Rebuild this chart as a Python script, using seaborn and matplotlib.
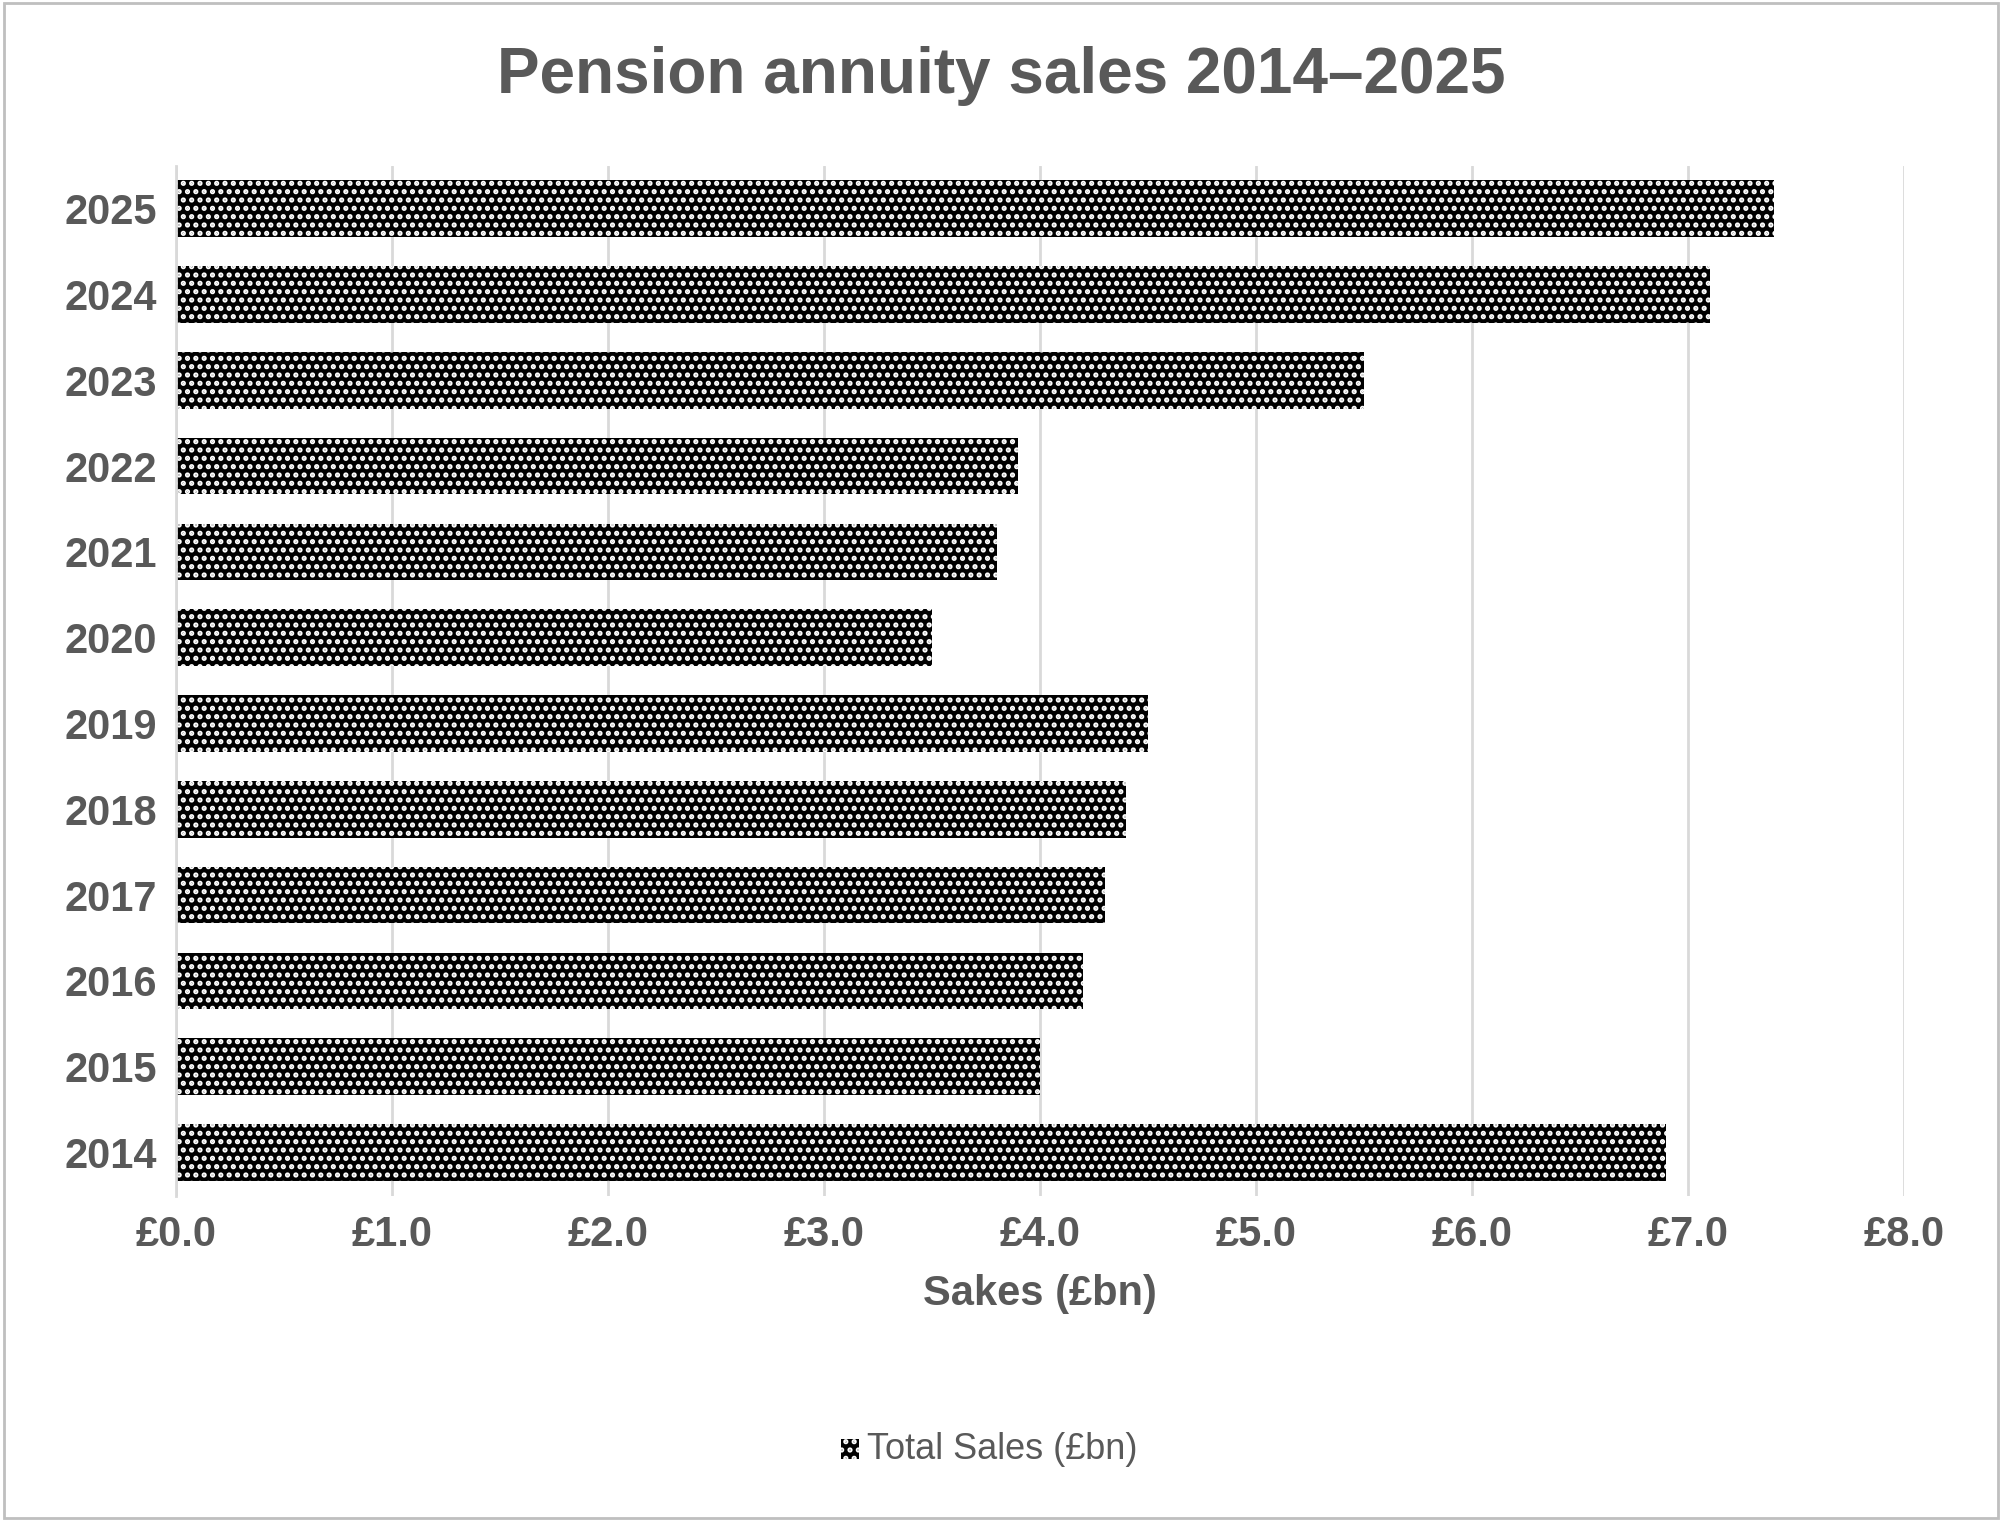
import matplotlib
matplotlib.use("Agg")
import matplotlib.pyplot as plt
import seaborn as sns
import pandas as pd
from matplotlib.patches import Rectangle

years = ["2025", "2024", "2023", "2022", "2021", "2020", "2019", "2018", "2017", "2016", "2015", "2014"]
sales = [7.4, 7.1, 5.5, 3.9, 3.8, 3.5, 4.5, 4.4, 4.3, 4.2, 4.0, 6.9]
xticks = [0, 1, 2, 3, 4, 5, 6, 7, 8]

sns.set_style("white")
plt.rcParams['font.family'] = ['Liberation Sans', 'DejaVu Sans']
plt.rcParams['hatch.color'] = 'white'
plt.rcParams['hatch.linewidth'] = 2.5
grey = '#595959'

df = pd.DataFrame({'year': years, 'sales': sales})

fig = plt.figure(figsize=(20.02, 15.21), dpi=100)
ax = fig.add_axes([0.088, 0.214, 0.863, 0.677])
sns.barplot(data=df, x='sales', y='year', order=years, orient='h', color='black',
            width=0.66, ax=ax, saturation=1)
for p in ax.patches:
    p.set_hatch('..')
    p.set_edgecolor('white')
    p.set_linewidth(0)

ax.set_xlim(0, 8)
ax.set_xticks(xticks)
ax.set_xticklabels([f"£{v:.1f}" for v in xticks])
ax.xaxis.grid(True, color='#d9d9d9', linewidth=2)
ax.set_axisbelow(True)
for s in ['top', 'right', 'bottom']:
    ax.spines[s].set_visible(False)
ax.spines['left'].set_color('#d9d9d9')
ax.spines['left'].set_linewidth(2)
ax.tick_params(axis='both', length=0, labelsize=30, labelcolor=grey, pad=14)
for t in ax.get_xticklabels() + ax.get_yticklabels():
    t.set_fontweight('bold')
ax.set_ylabel('')
ax.set_xlabel('Sakes (£bn)', fontsize=30, fontweight='bold', color=grey, labelpad=14)

fig.text(0.5, 0.95, 'Pension annuity sales 2014–2025', ha='center', va='center',
         fontsize=46, fontweight='bold', color=grey)

# legend
fig.patches.append(Rectangle((0.420, 0.041), 0.009, 0.013, transform=fig.transFigure,
                             facecolor='black', edgecolor='white', hatch='..', linewidth=0))
fig.text(0.433, 0.047, 'Total Sales (£bn)', ha='left', va='center', fontsize=26, color=grey)

# border
fig.patches.append(Rectangle((0.002, 0.002), 0.996, 0.996, transform=fig.transFigure,
                             fill=False, edgecolor='#bfbfbf', linewidth=2))

fig.savefig('out.png', dpi=100)
